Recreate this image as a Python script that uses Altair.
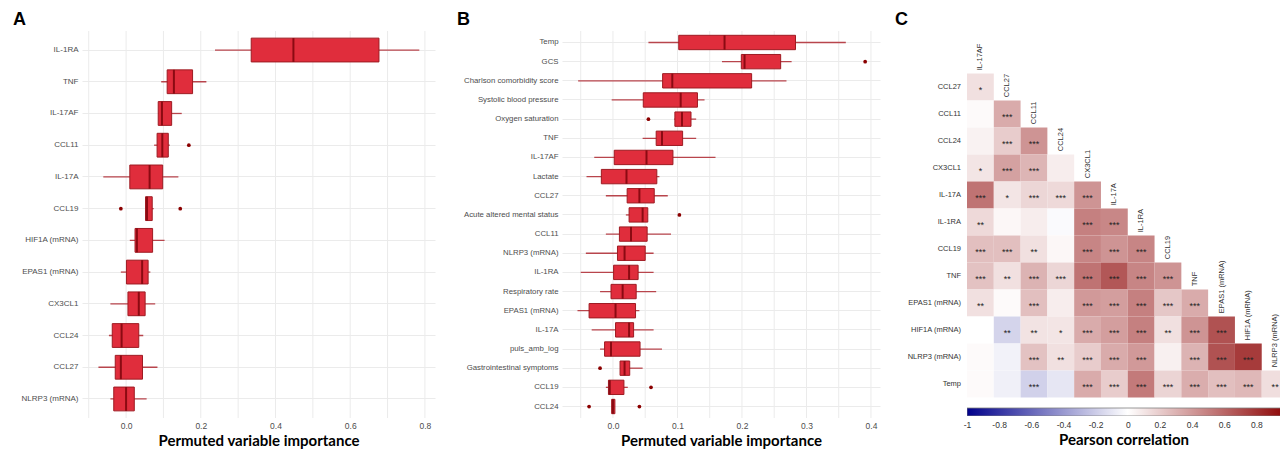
import altair as alt
import pandas as pd

# ---------------- Panel A : permuted variable importance (cytokines) ----------------
A_names = ["IL-1RA", "TNF", "IL-17AF", "CCL11", "IL-17A", "CCL19",
           "HIF1A (mRNA)", "EPAS1 (mRNA)", "CX3CL1", "CCL24", "CCL27", "NLRP3 (mRNA)"]
A_lo  = [0.238, 0.094, 0.086, 0.075, -0.061, 0.052, 0.010, -0.014, -0.042, -0.046, -0.074, -0.042]
A_q1  = [0.335, 0.110, 0.086, 0.083, 0.010, 0.052, 0.024, 0.001, 0.005, -0.037, -0.029, -0.033]
A_med = [0.448, 0.128, 0.096, 0.097, 0.063, 0.056, 0.029, 0.043, 0.034, -0.012, -0.014, 0.000]
A_q3  = [0.677, 0.178, 0.122, 0.113, 0.098, 0.070, 0.071, 0.059, 0.051, 0.034, 0.044, 0.022]
A_hi  = [0.785, 0.215, 0.149, 0.117, 0.140, 0.074, 0.103, 0.065, 0.078, 0.046, 0.084, 0.055]
A_out_name = ["CCL11", "CCL19", "CCL19"]
A_out_val  = [0.168, -0.014, 0.145]
A_grid   = [-0.1, 0.0, 0.1, 0.2, 0.3, 0.4, 0.5, 0.6, 0.7, 0.8]
A_labels = [0.0, 0.2, 0.4, 0.6, 0.8]
A_domain = [-0.118, 0.827]

# ---------------- Panel B : permuted variable importance (all variables) ----------------
B_names = ["Temp", "GCS", "Charlson comorbidity score", "Systolic blood pressure",
           "Oxygen saturation", "TNF", "IL-17AF", "Lactate", "CCL27",
           "Acute altered mental status", "CCL11", "NLRP3 (mRNA)", "IL-1RA",
           "Respiratory rate", "EPAS1 (mRNA)", "IL-17A", "puls_amb_log",
           "Gastrointestinal symptoms", "CCL19", "CCL24"]
B_lo  = [0.055, 0.169, -0.054, -0.002, 0.095, 0.046, -0.029, -0.041, -0.011, 0.020,
         -0.011, -0.042, -0.050, -0.020, -0.055, -0.033, -0.020, 0.011, -0.011, -0.002]
B_q1  = [0.102, 0.199, 0.077, 0.047, 0.096, 0.067, 0.002, -0.018, 0.022, 0.025,
         0.010, 0.007, 0.001, -0.003, -0.037, 0.004, -0.013, 0.011, -0.007, -0.002]
B_med = [0.173, 0.204, 0.092, 0.105, 0.107, 0.076, 0.052, 0.021, 0.041, 0.046,
         0.028, 0.018, 0.025, 0.015, 0.004, 0.025, -0.003, 0.018, -0.005, 0.000]
B_q3  = [0.283, 0.260, 0.215, 0.131, 0.121, 0.108, 0.093, 0.068, 0.064, 0.054,
         0.053, 0.050, 0.039, 0.036, 0.035, 0.032, 0.042, 0.026, 0.017, 0.003]
B_hi  = [0.361, 0.277, 0.269, 0.142, 0.129, 0.129, 0.159, 0.072, 0.085, 0.054,
         0.090, 0.063, 0.063, 0.067, 0.041, 0.063, 0.076, 0.046, 0.023, 0.003]
B_out_name = ["GCS", "Oxygen saturation", "Acute altered mental status",
              "Gastrointestinal symptoms", "CCL19", "CCL24", "CCL24"]
B_out_val  = [0.391, 0.055, 0.103, -0.020, 0.059, -0.037, 0.041]
B_grid   = [-0.05, 0.0, 0.05, 0.1, 0.15, 0.2, 0.25, 0.3, 0.35, 0.4]
B_labels = [0.0, 0.1, 0.2, 0.3, 0.4]
B_domain = [-0.079, 0.414]

# ---------------- Panel C : Pearson correlation matrix ----------------
C_rows = ["CCL27", "CCL11", "CCL24", "CX3CL1", "IL-17A", "IL-1RA", "CCL19", "TNF",
          "EPAS1 (mRNA)", "HIF1A (mRNA)", "NLRP3 (mRNA)", "Temp"]
C_cols = ["IL-17AF", "CCL27", "CCL11", "CCL24", "CX3CL1", "IL-17A", "IL-1RA", "CCL19",
          "TNF", "EPAS1 (mRNA)", "HIF1A (mRNA)", "NLRP3 (mRNA)"]
C_r = [
    [0.12],
    [0.02, 0.33],
    [0.05, 0.20, 0.42],
    [0.10, 0.37, 0.29, 0.07],
    [0.55, 0.10, 0.16, 0.15, 0.42],
    [0.15, 0.03, 0.07, -0.02, 0.50, 0.47],
    [0.25, 0.25, 0.12, 0.03, 0.48, 0.42, 0.48],
    [0.24, 0.12, 0.30, 0.16, 0.55, 0.66, 0.48, 0.42],
    [0.12, 0.02, 0.25, 0.07, 0.40, 0.38, 0.50, 0.22, 0.33],
    [0.00, -0.17, 0.11, 0.10, 0.33, 0.38, 0.50, 0.12, 0.42, 0.68],
    [0.02, -0.05, 0.24, 0.12, 0.20, 0.33, 0.40, 0.06, 0.30, 0.68, 0.77],
    [0.02, -0.06, -0.18, -0.10, 0.33, 0.20, 0.52, 0.17, 0.32, 0.25, 0.28, 0.13],
]
C_sig = [
    ["*"],
    ["", "***"],
    ["", "***", "***"],
    ["*", "***", "***", ""],
    ["***", "*", "***", "***", "***"],
    ["**", "", "", "", "***", "***"],
    ["***", "***", "**", "", "***", "***", "***"],
    ["***", "**", "***", "***", "***", "***", "***", "***"],
    ["**", "", "***", "", "***", "***", "***", "***", "***"],
    ["", "**", "**", "*", "***", "***", "***", "**", "***", "***"],
    ["", "", "***", "**", "***", "***", "***", "", "***", "***", "***"],
    ["", "", "***", "", "***", "***", "***", "***", "***", "***", "***", "**"],
]
C_ticks = [-1, -0.8, -0.6, -0.4, -0.2, 0, 0.2, 0.4, 0.6, 0.8]
C_colorbar = {"lo": [-1.0], "hi": [1.0]}
C_xmax = 0.947

# ---------------- styling ----------------
BOX_FILL = "#E02D3C"
BOX_STROKE = "#9E1B22"
MED_COL = "#8B0A12"
WHISK_COL = "#B8454C"
OUT_COL = "#8B0000"
GRID_COL = "#EBEBEB"
LABEL_COL = "#4D4D4D"
TITLE_FONT = "Lato"
LABEL_FONT = "Liberation Sans"
PLOT_H = 387


def letter_title(letter, dx):
    return alt.TitleParams(text=letter, anchor="start", frame="group", dx=dx,
                           fontSize=18, font=LABEL_FONT, fontWeight="bold",
                           color="black", offset=2)


def box_panel(names, lo, q1, med, q3, hi, out_name, out_val, grid, labels,
              domain, width, letter, dx, ylabel_size):
    df = pd.DataFrame({"name": names, "lo": lo, "q1": q1, "med": med, "q3": q3, "hi": hi})
    od = pd.DataFrame({"name": out_name, "v": out_val})
    gd = pd.DataFrame({"g": grid})
    xscale = alt.Scale(domain=domain, nice=False, zero=False)
    xaxis = alt.Axis(values=labels, grid=False, ticks=False, domain=False,
                     format=".1f", labelFont=LABEL_FONT, labelFontSize=8.5,
                     labelColor=LABEL_COL, labelPadding=3, labelOverlap=False,
                     title="Permuted variable importance", titleFont=TITLE_FONT,
                     titleFontSize=15, titleFontWeight="bold", titleColor="black",
                     titlePadding=4)

    def X(field):
        return alt.X(field, scale=xscale, axis=xaxis)

    ysc = alt.Scale(paddingInner=0, paddingOuter=0.1)
    yaxis = alt.Axis(title=None, ticks=False, domain=False, grid=True, gridColor=GRID_COL,
                     gridWidth=1, bandPosition=0.5, labelFont=LABEL_FONT,
                     labelFontSize=ylabel_size, labelColor=LABEL_COL, labelPadding=4)
    y = alt.Y("name:N", sort=names, scale=ysc, axis=yaxis)
    step = PLOT_H / (len(names) + 0.2)
    vgrid = alt.Chart(gd).mark_rule(color=GRID_COL, strokeWidth=1).encode(x=X("g:Q"))
    whisk = alt.Chart(df).mark_rule(color=WHISK_COL, strokeWidth=1.3).encode(
        x=X("lo:Q"), x2="hi:Q", y=y)
    box = alt.Chart(df).mark_bar(height={"band": 0.75}, fill=BOX_FILL, stroke=BOX_STROKE,
                                 strokeWidth=1, opacity=1).encode(
        x=X("q1:Q"), x2="q3:Q", y=y)
    medt = alt.Chart(df).mark_tick(orient="vertical", size=step * 0.75, thickness=2,
                                   color=MED_COL, opacity=1).encode(x=X("med:Q"), y=y)
    outl = alt.Chart(od).mark_circle(size=14, color=OUT_COL, opacity=1).encode(
        x=X("v:Q"), y=y)
    return alt.layer(vgrid, whisk, box, medt, outl).properties(
        width=width, height=PLOT_H, title=letter_title(letter, dx))


A = box_panel(A_names, A_lo, A_q1, A_med, A_q3, A_hi, A_out_name, A_out_val,
              A_grid, A_labels, A_domain, 353, "A", -69, 8)
B = box_panel(B_names, B_lo, B_q1, B_med, B_q3, B_hi, B_out_name, B_out_val,
              B_grid, B_labels, B_domain, 318, "B", -105, 7.8)

# ---- panel C ----
C_W = 313
C_H = 385
ROW_PX = 27.0
top_rows = 42.5 / ROW_PX
C_ymin = -top_rows
C_ymax = C_H / ROW_PX - top_rows

cells = []
for i, rname in enumerate(C_rows):
    for j in range(i + 1):
        cells.append({"row": rname, "col": C_cols[j], "ri": i, "cj": j,
                      "r": C_r[i][j], "sig": C_sig[i][j]})
cdf = pd.DataFrame(cells)
rows_df = pd.DataFrame({"name": C_rows, "ri": list(range(len(C_rows)))})
cols_df = pd.DataFrame({"name": C_cols, "cj": list(range(len(C_cols)))})
cb_df = pd.DataFrame(C_colorbar)

ncol = len(C_cols)
xs = alt.Scale(domain=[-1, C_xmax], nice=False, zero=False)
ys = alt.Scale(domain=[C_ymin, C_ymax], nice=False, zero=False, reverse=True)
cax = alt.Axis(values=C_ticks, grid=False, ticks=False, domain=False,
               labelExpr="toString(datum.value)", labelFont=LABEL_FONT,
               labelFontSize=8.5, labelColor="#333333", labelPadding=4,
               labelOverlap=False, labelFlush=False,
               title="Pearson correlation", titleFont=TITLE_FONT, titleFontSize=15,
               titleFontWeight="bold", titleColor="black", titlePadding=4)


def CX(field):
    return alt.X(field, scale=xs, axis=cax)


def CY(field):
    return alt.Y(field, scale=ys, axis=None)


color_scale = alt.Scale(domain=[-1, 0, 1], range=["#00008B", "#FFFFFF", "#8B0000"],
                        interpolate="rgb")

cbase = alt.Chart(cdf).transform_calculate(
    x0=f"-1 + 2 * datum.cj / {ncol}",
    x1=f"-1 + 2 * (datum.cj + 1) / {ncol}",
    xc=f"-1 + 2 * (datum.cj + 0.5) / {ncol}",
    y0="datum.ri",
    y1="datum.ri + 1",
    yc="datum.ri + 0.5",
)
rects = cbase.mark_rect(clip=True).encode(
    x=CX("x0:Q"), x2="x1:Q", y=CY("y0:Q"), y2="y1:Q",
    color=alt.Color("r:Q", scale=color_scale, legend=None))
stars = cbase.mark_text(fontSize=9, color="#222222", dy=2.5,
                        font=LABEL_FONT).encode(
    x=CX("xc:Q"), y=CY("yc:Q"), text="sig:N")
row_lab = alt.Chart(rows_df).transform_calculate(yc="datum.ri + 0.5").mark_text(
    align="right", baseline="middle", fontSize=7.5, color="#333333", font=LABEL_FONT,
    dx=-6).encode(x=alt.value(0), y=CY("yc:Q"), text="name:N")
col_lab = alt.Chart(cols_df).transform_calculate(
    xc=f"-1 + 2 * (datum.cj + 0.5) / {ncol}", yt="datum.cj - 0.12").mark_text(
    align="left", baseline="middle", angle=270, fontSize=7.5, color="#333333",
    font=LABEL_FONT).encode(
    x=CX("xc:Q"), y=CY("yt:Q"), text="name:N")
gradient = alt.Gradient(
    gradient="linear", x1=0, x2=1, y1=0, y2=0,
    stops=[alt.GradientStop(offset=0, color="#00008B"),
           alt.GradientStop(offset=0.5, color="#FFFFFF"),
           alt.GradientStop(offset=1, color="#8B0000")])
cbar = alt.Chart(cb_df).mark_rect(clip=True, color=gradient, stroke="#7F7F7F",
                                  strokeWidth=0.8).encode(
    x=CX("lo:Q"), x2="hi:Q",
    y=alt.value(C_H - 8), y2=alt.value(C_H))

C = alt.layer(rects, stars, row_lab, col_lab, cbar).properties(
    width=C_W, height=C_H, title=letter_title("C", -72))

left = alt.hconcat(A, B, spacing=22)
chart = alt.hconcat(left, C, spacing=15).properties(
    padding={"left": 5, "top": 2, "right": 0, "bottom": 0}
).configure_view(stroke=None).configure_axis(labelOverlap=False)

chart.save("out.html", embed_options={"renderer": "svg", "actions": False})
